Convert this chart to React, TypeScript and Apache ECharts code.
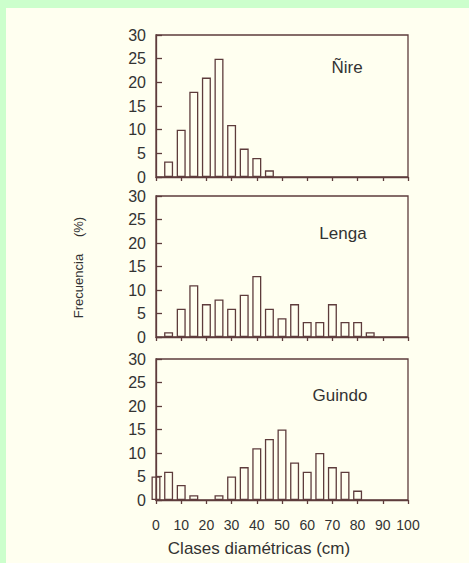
import React, { useEffect, useRef } from "react";
import * as echarts from "echarts";

// Diameter classes (cm) and frequencies (%)
const nireClasses = [5, 10, 15, 20, 25, 30, 35, 40, 45];
const nireValues = [3.3, 10, 18, 21, 25, 11, 6, 4, 1.4];

const lengaClasses = [5, 10, 15, 20, 25, 30, 35, 40, 45, 50, 55, 60, 65, 70, 75, 80, 85];
const lengaValues = [1, 6, 11, 7, 8, 6, 9, 13, 6, 4, 7, 3.2, 3.2, 7, 3.2, 3.2, 1];

const guindoClasses = [0, 5, 10, 15, 25, 30, 35, 40, 45, 50, 55, 60, 65, 70, 75, 80];
const guindoValues = [5, 6, 3.2, 1, 1, 5, 7, 11, 13, 15, 8, 6, 10, 7, 6, 2];

const speciesNames = ["Ñire", "Lenga", "Guindo"];
const xTitle = "Clases diamétricas (cm)";
const yTitleMain = "Frecuencia";
const yTitleUnit = "(%)";

const AXIS = "#5e3c3c";
const TEXT = "#333333";
const FONT = "Liberation Sans, Arial, sans-serif";

export default function App() {
  const ref = useRef<HTMLDivElement>(null);

  useEffect(() => {
    if (!ref.current) return;
    const chart = echarts.init(ref.current, undefined, { renderer: "svg" });

    const grids = [
      { left: 156, top: 35, width: 252, height: 142 },
      { left: 156, top: 196, width: 252, height: 141 },
      { left: 156, top: 359, width: 252, height: 141 },
    ];
    const seriesData = [
      nireClasses.map((c, i) => [c, nireValues[i]]),
      lengaClasses.map((c, i) => [c, lengaValues[i]]),
      guindoClasses.map((c, i) => [c, guindoValues[i]]),
    ];
    const labelPos = [
      [347, 67],
      [343, 233],
      [340, 395],
    ];

    const option: any = {
      animation: false,
      grid: grids.map((g) => ({
        ...g,
        show: true,
        borderColor: AXIS,
        borderWidth: 1.3,
        backgroundColor: "transparent",
        containLabel: false,
      })),
      xAxis: grids.map((_, i) => ({
        type: "value",
        gridIndex: i,
        min: 0,
        max: 100,
        interval: 10,
        axisLine: { show: true, lineStyle: { color: AXIS, width: 1.3 } },
        axisTick: { show: true, inside: false, length: 4, lineStyle: { color: AXIS, width: 1.3 } },
        axisLabel: {
          show: i === 2,
          color: TEXT,
          fontFamily: FONT,
          fontSize: 14,
          margin: 18,
        },
        splitLine: { show: false },
      })),
      yAxis: grids.map((_, i) => ({
        type: "value",
        gridIndex: i,
        min: 0,
        max: 30,
        interval: 5,
        axisLine: { show: true, lineStyle: { color: AXIS, width: 1.3 } },
        axisTick: { show: true, inside: true, length: 6, lineStyle: { color: AXIS, width: 1.3 } },
        axisLabel: {
          color: TEXT,
          fontFamily: FONT,
          fontSize: 16,
          margin: 10,
        },
        splitLine: { show: false },
      })),
      series: seriesData.map((d, i) => ({
        type: "bar",
        xAxisIndex: i,
        yAxisIndex: i,
        data: d,
        barWidth: 9,
        clip: true,
        itemStyle: {
          color: "rgba(0,0,0,0)",
          borderColor: AXIS,
          borderWidth: 1.3,
        },
      })),
      graphic: [
        ...speciesNames.map((name, i) => ({
          type: "text",
          x: labelPos[i][0],
          y: labelPos[i][1],
          style: {
            text: name,
            fill: TEXT,
            font: `17px ${FONT}`,
            align: "center",
            verticalAlign: "middle",
          },
        })),
        {
          type: "text",
          x: 259,
          y: 548,
          style: {
            text: xTitle,
            fill: TEXT,
            font: `17px ${FONT}`,
            align: "center",
            verticalAlign: "middle",
          },
        },
        {
          type: "text",
          x: 78,
          y: 286,
          rotation: Math.PI / 2,
          style: {
            text: yTitleMain,
            fill: TEXT,
            font: `13px ${FONT}`,
            align: "center",
            verticalAlign: "middle",
          },
        },
        {
          type: "text",
          x: 78,
          y: 227,
          rotation: Math.PI / 2,
          style: {
            text: yTitleUnit,
            fill: TEXT,
            font: `13px ${FONT}`,
            align: "center",
            verticalAlign: "middle",
          },
        },
      ],
    };

    chart.setOption(option);
    return () => chart.dispose();
  }, []);

  return (
    <div
      style={{
        position: "fixed",
        left: 0,
        top: 0,
        width: 469,
        height: 563,
        background: "#ccffcc",
        overflow: "hidden",
      }}
    >
      <div
        style={{
          position: "absolute",
          left: 6,
          top: 8,
          right: 0,
          bottom: 0,
          background: "#fffff0",
        }}
      />
      <div
        ref={ref}
        style={{ position: "absolute", left: 0, top: 0, width: 469, height: 563 }}
      />
    </div>
  );
}
